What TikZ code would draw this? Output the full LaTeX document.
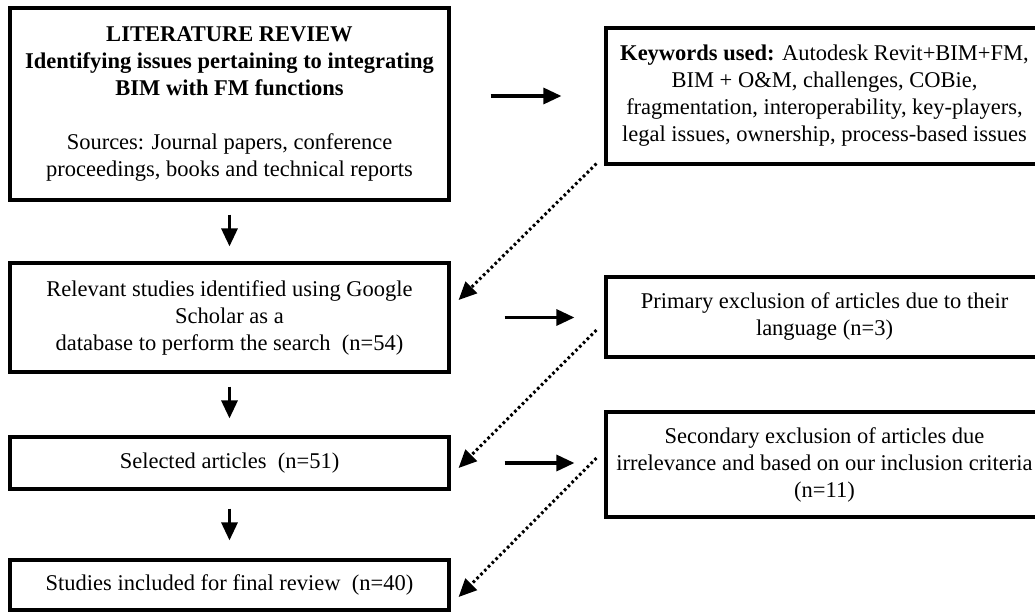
\documentclass[tikz,border=0pt]{standalone}
\usepackage{fontspec}
\setmainfont{Liberation Serif}
\usetikzlibrary{arrows.meta,calc}
\begin{document}
\begin{tikzpicture}[x=1pt,y=-1pt,
  box/.style={draw,line width=3.2pt,align=center,inner sep=0pt,
    font=\fontsize{22.5}{27}\selectfont},
  arr/.style={line width=3.2pt,-{Triangle[length=18pt,width=16pt]}},
  dotarr/.style={line width=3pt,dash pattern=on 2.6pt off 2.8pt,
    -{Triangle[length=18pt,width=16pt]}}]
\useasboundingbox (0,0) rectangle (1035,612);
\clip (0,0) rectangle (1035,612);
% left column
\node[box,minimum width=439pt,minimum height=192pt] (lit) at (229.5,104)
  {\textbf{LITERATURE REVIEW}\\
   \textbf{Identifying issues pertaining to integrating}\\
   \textbf{BIM with FM functions}\\[27pt]
   Sources: Journal papers, conference\\
   proceedings, books and technical reports};
\node[box,minimum width=439pt,minimum height=109pt] (rel) at (229.5,317.5)
  {Relevant studies identified using Google\\
   Scholar as a\\
   database to perform the search\ \ (n=54)};
\node[box,minimum width=439pt,minimum height=52pt] (sel) at (229.5,463)
  {Selected articles\ \ (n=51)};
\node[box,minimum width=439pt,minimum height=50pt] (fin) at (229.5,585)
  {Studies included for final review\ \ (n=40)};
% right column
\node[box,minimum width=437pt,minimum height=136pt] (kw) at (824.5,96)
  {\textbf{Keywords used:} Autodesk Revit+BIM+FM,\\
   BIM + O\&M, challenges, COBie,\\
   fragmentation, interoperability, key-players,\\
   legal issues, ownership, process-based issues};
\node[box,minimum width=437pt,minimum height=80pt] (pri) at (824.5,317)
  {Primary exclusion of articles due to their\\
   language (n=3)};
\node[box,minimum width=437pt,minimum height=105pt] (sec) at (824.5,464.5)
  {Secondary exclusion of articles due\\
   irrelevance and based on our inclusion criteria\\
   (n=11)};
% vertical arrows
\draw[arr,shorten <=13pt,shorten >=15pt] (lit.south) -- (rel.north);
\draw[arr,shorten <=13pt,shorten >=17pt] (rel.south) -- (sel.north);
\draw[arr,shorten <=18pt,shorten >=18pt] (sel.south) -- (fin.north);
% horizontal arrows
\draw[arr,shorten <=40pt,shorten >=43pt] (lit.east |- kw.west) -- (kw.west);
\draw[arr,shorten <=54pt,shorten >=30pt] (rel.east) -- (rel.east -| pri.west);
\draw[arr,shorten <=54pt,shorten >=30pt] (sel.east) -- (sel.east -| sec.west);
% dotted arrows
\draw[dotarr] ([xshift=-8pt,yshift=2pt]kw.south west) -- ([xshift=8pt,yshift=17.5pt]rel.east);
\draw[dotarr] ([xshift=-8pt,yshift=-13pt]pri.west) -- ([xshift=8pt,yshift=-5pt]sel.east);
\draw[dotarr] ([xshift=-8pt,yshift=6.5pt]sec.west) -- ([xshift=8pt,yshift=-12pt]fin.east);
\end{tikzpicture}
\end{document}
